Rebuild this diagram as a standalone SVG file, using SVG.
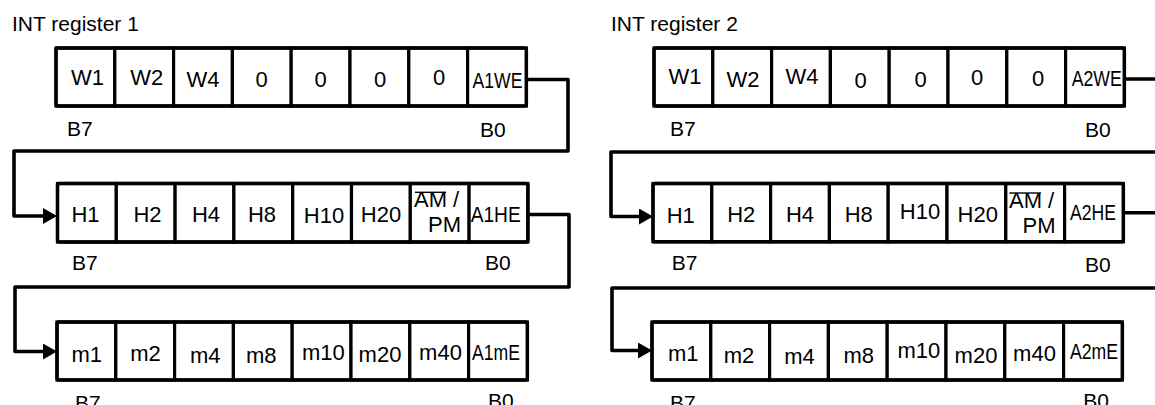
<svg xmlns="http://www.w3.org/2000/svg" width="1155" height="405" viewBox="0 0 1155 405">
<style>
  text { font-family: "Liberation Sans", Arial, sans-serif; fill: #000; }
  .t { font-size: 22px; text-anchor: middle; }
  .title { font-size: 21px; }
  .b { font-size: 21px; }
  .cell { fill: #fff; stroke: #000; stroke-width: 3.2; }
  .frame { fill: none; stroke: #000; stroke-width: 3.4; }
  .ov { stroke: #000; stroke-width: 1.4; }
  .conn { fill: none; stroke: #000; stroke-width: 3.6; stroke-linejoin: round; }
</style>
<defs>
  <marker id="arr" markerUnits="userSpaceOnUse" markerWidth="14" markerHeight="16" viewBox="0 0 14 16" refX="2" refY="8" orient="auto">
    <path d="M0,0 L14,8 L0,16 z" fill="#000"/>
  </marker>
</defs>
<rect width="1155" height="405" fill="#fff"/>

<text class="title" x="12" y="31">INT register 1</text>
<text class="title" x="611" y="31">INT register 2</text>

<g id="connectors">
  <path class="conn" d="M527,79.5 H568 V151 H14 V216 H45" marker-end="url(#arr)"/>
  <path class="conn" d="M528,214.5 H569 V287 H15 V351.5 H45" marker-end="url(#arr)"/>
  <path class="conn" d="M1125,79 H1170 V152 H611 V216.5 H641" marker-end="url(#arr)"/>
  <path class="conn" d="M1123,212.7 H1170 V288 H612 V350.5 H640" marker-end="url(#arr)"/>
</g>

<!-- Register 1 -->
<g id="reg1-row1">
  <rect class="cell" x="56" y="48" width="58.8" height="58"/>
  <rect class="cell" x="114.8" y="48" width="58.8" height="58"/>
  <rect class="cell" x="173.6" y="48" width="58.8" height="58"/>
  <rect class="cell" x="232.4" y="48" width="58.8" height="58"/>
  <rect class="cell" x="291.2" y="48" width="58.8" height="58"/>
  <rect class="cell" x="350" y="48" width="58.8" height="58"/>
  <rect class="cell" x="408.8" y="48" width="58.8" height="58"/>
  <rect class="cell" x="467.6" y="48" width="58.8" height="58"/>
  <rect class="frame" x="56" y="48" width="470.4" height="58" rx="2"/>
  <text class="t" x="87.5" y="85">W1</text>
  <text class="t" x="146.7" y="85">W2</text>
  <text class="t" x="203" y="87">W4</text>
  <text class="t" x="261.7" y="87">0</text>
  <text class="t" x="320.5" y="87">0</text>
  <text class="t" x="380" y="87">0</text>
  <text class="t" x="439" y="85">0</text>
  <text class="t" x="497.5" y="88" textLength="50" lengthAdjust="spacingAndGlyphs">A1WE</text>
  <text class="b" x="67" y="136">B7</text>
  <text class="b" x="480" y="136.5">B0</text>
</g>

<g id="reg1-row2">
  <rect class="cell" x="57.5" y="183.5" width="58.8" height="58.5"/>
  <rect class="cell" x="116.3" y="183.5" width="58.8" height="58.5"/>
  <rect class="cell" x="175.1" y="183.5" width="58.8" height="58.5"/>
  <rect class="cell" x="233.9" y="183.5" width="58.8" height="58.5"/>
  <rect class="cell" x="292.7" y="183.5" width="58.8" height="58.5"/>
  <rect class="cell" x="351.5" y="183.5" width="58.8" height="58.5"/>
  <rect class="cell" x="410.3" y="183.5" width="58.8" height="58.5"/>
  <rect class="cell" x="469.1" y="183.5" width="58.8" height="58.5"/>
  <rect class="frame" x="57.5" y="183.5" width="470.4" height="58.5" rx="2"/>
  <text class="t" x="85.5" y="222">H1</text>
  <text class="t" x="147.5" y="221.7">H2</text>
  <text class="t" x="206" y="222">H4</text>
  <text class="t" x="262" y="222">H8</text>
  <text class="t" x="324" y="222.5">H10</text>
  <text class="t" x="381" y="221.7">H20</text>
  <text class="t" x="414" y="207.3" style="text-anchor:start">AM /</text>
  <line class="ov" x1="415" y1="192.3" x2="446" y2="192.3"/>
  <text class="t" x="428" y="232.3" style="text-anchor:start">PM</text>
  <text class="t" x="495.7" y="221.7" textLength="50" lengthAdjust="spacingAndGlyphs">A1HE</text>
  <text class="b" x="72" y="270">B7</text>
  <text class="b" x="485" y="270">B0</text>
</g>

<g id="reg1-row3">
  <rect class="cell" x="57" y="322" width="58.8" height="58"/>
  <rect class="cell" x="115.8" y="322" width="58.8" height="58"/>
  <rect class="cell" x="174.6" y="322" width="58.8" height="58"/>
  <rect class="cell" x="233.4" y="322" width="58.8" height="58"/>
  <rect class="cell" x="292.2" y="322" width="58.8" height="58"/>
  <rect class="cell" x="351" y="322" width="58.8" height="58"/>
  <rect class="cell" x="409.8" y="322" width="58.8" height="58"/>
  <rect class="cell" x="468.6" y="322" width="58.8" height="58"/>
  <rect class="frame" x="57" y="322" width="470.4" height="58" rx="2"/>
  <text class="t" x="86.7" y="361.7">m1</text>
  <text class="t" x="145.5" y="361">m2</text>
  <text class="t" x="205.3" y="362.7">m4</text>
  <text class="t" x="261.3" y="363.3">m8</text>
  <text class="t" x="323.3" y="360">m10</text>
  <text class="t" x="380" y="361.7">m20</text>
  <text class="t" x="440.5" y="360">m40</text>
  <text class="t" x="496" y="360" textLength="48" lengthAdjust="spacingAndGlyphs">A1mE</text>
  <text class="b" x="75" y="410">B7</text>
  <text class="b" x="488" y="408">B0</text>
</g>

<!-- Register 2 -->
<g id="reg2-row1">
  <rect class="cell" x="654" y="48" width="58.8" height="58"/>
  <rect class="cell" x="712.8" y="48" width="58.8" height="58"/>
  <rect class="cell" x="771.6" y="48" width="58.8" height="58"/>
  <rect class="cell" x="830.4" y="48" width="58.8" height="58"/>
  <rect class="cell" x="889.2" y="48" width="58.8" height="58"/>
  <rect class="cell" x="948" y="48" width="58.8" height="58"/>
  <rect class="cell" x="1006.8" y="48" width="58.8" height="58"/>
  <rect class="cell" x="1065.6" y="48" width="58.8" height="58"/>
  <rect class="frame" x="654" y="48" width="470.4" height="58" rx="2"/>
  <text class="t" x="685" y="83.5">W1</text>
  <text class="t" x="743" y="87">W2</text>
  <text class="t" x="802" y="83.5">W4</text>
  <text class="t" x="860.5" y="88">0</text>
  <text class="t" x="920.5" y="86.7">0</text>
  <text class="t" x="977" y="85">0</text>
  <text class="t" x="1038" y="85.7">0</text>
  <text class="t" x="1096.7" y="86" textLength="50" lengthAdjust="spacingAndGlyphs">A2WE</text>
  <text class="b" x="670" y="136">B7</text>
  <text class="b" x="1085" y="136.7">B0</text>
</g>

<g id="reg2-row2">
  <rect class="cell" x="653" y="183.5" width="58.8" height="58.3"/>
  <rect class="cell" x="711.8" y="183.5" width="58.8" height="58.3"/>
  <rect class="cell" x="770.6" y="183.5" width="58.8" height="58.3"/>
  <rect class="cell" x="829.4" y="183.5" width="58.8" height="58.3"/>
  <rect class="cell" x="888.2" y="183.5" width="58.8" height="58.3"/>
  <rect class="cell" x="947" y="183.5" width="58.8" height="58.3"/>
  <rect class="cell" x="1005.8" y="183.5" width="58.8" height="58.3"/>
  <rect class="cell" x="1064.6" y="183.5" width="58.8" height="58.3"/>
  <rect class="frame" x="653" y="183.5" width="470.4" height="58.3" rx="2"/>
  <text class="t" x="680.8" y="222.7">H1</text>
  <text class="t" x="741.2" y="221.7">H2</text>
  <text class="t" x="800" y="222">H4</text>
  <text class="t" x="858.8" y="222">H8</text>
  <text class="t" x="920" y="219.3">H10</text>
  <text class="t" x="977.8" y="221.7">H20</text>
  <text class="t" x="1009" y="208.3" style="text-anchor:start">AM /</text>
  <line class="ov" x1="1009.3" y1="193" x2="1041" y2="193"/>
  <text class="t" x="1022.5" y="233.3" style="text-anchor:start">PM</text>
  <text class="t" x="1093" y="220" textLength="46" lengthAdjust="spacingAndGlyphs">A2HE</text>
  <text class="b" x="671.7" y="270">B7</text>
  <text class="b" x="1085" y="272">B0</text>
</g>

<g id="reg2-row3">
  <rect class="cell" x="652" y="322" width="58.8" height="58"/>
  <rect class="cell" x="710.8" y="322" width="58.8" height="58"/>
  <rect class="cell" x="769.6" y="322" width="58.8" height="58"/>
  <rect class="cell" x="828.4" y="322" width="58.8" height="58"/>
  <rect class="cell" x="887.2" y="322" width="58.8" height="58"/>
  <rect class="cell" x="946" y="322" width="58.8" height="58"/>
  <rect class="cell" x="1004.8" y="322" width="58.8" height="58"/>
  <rect class="cell" x="1063.6" y="322" width="58.8" height="58"/>
  <rect class="frame" x="652" y="322" width="470.4" height="58" rx="2"/>
  <text class="t" x="683.3" y="361">m1</text>
  <text class="t" x="739" y="362.7">m2</text>
  <text class="t" x="799.5" y="364">m4</text>
  <text class="t" x="858.7" y="362.7">m8</text>
  <text class="t" x="918.8" y="358.3">m10</text>
  <text class="t" x="976" y="362.7">m20</text>
  <text class="t" x="1034.5" y="360.7">m40</text>
  <text class="t" x="1094" y="359" textLength="48" lengthAdjust="spacingAndGlyphs">A2mE</text>
  <text class="b" x="670" y="410">B7</text>
  <text class="b" x="1083.3" y="408">B0</text>
</g>
</svg>
